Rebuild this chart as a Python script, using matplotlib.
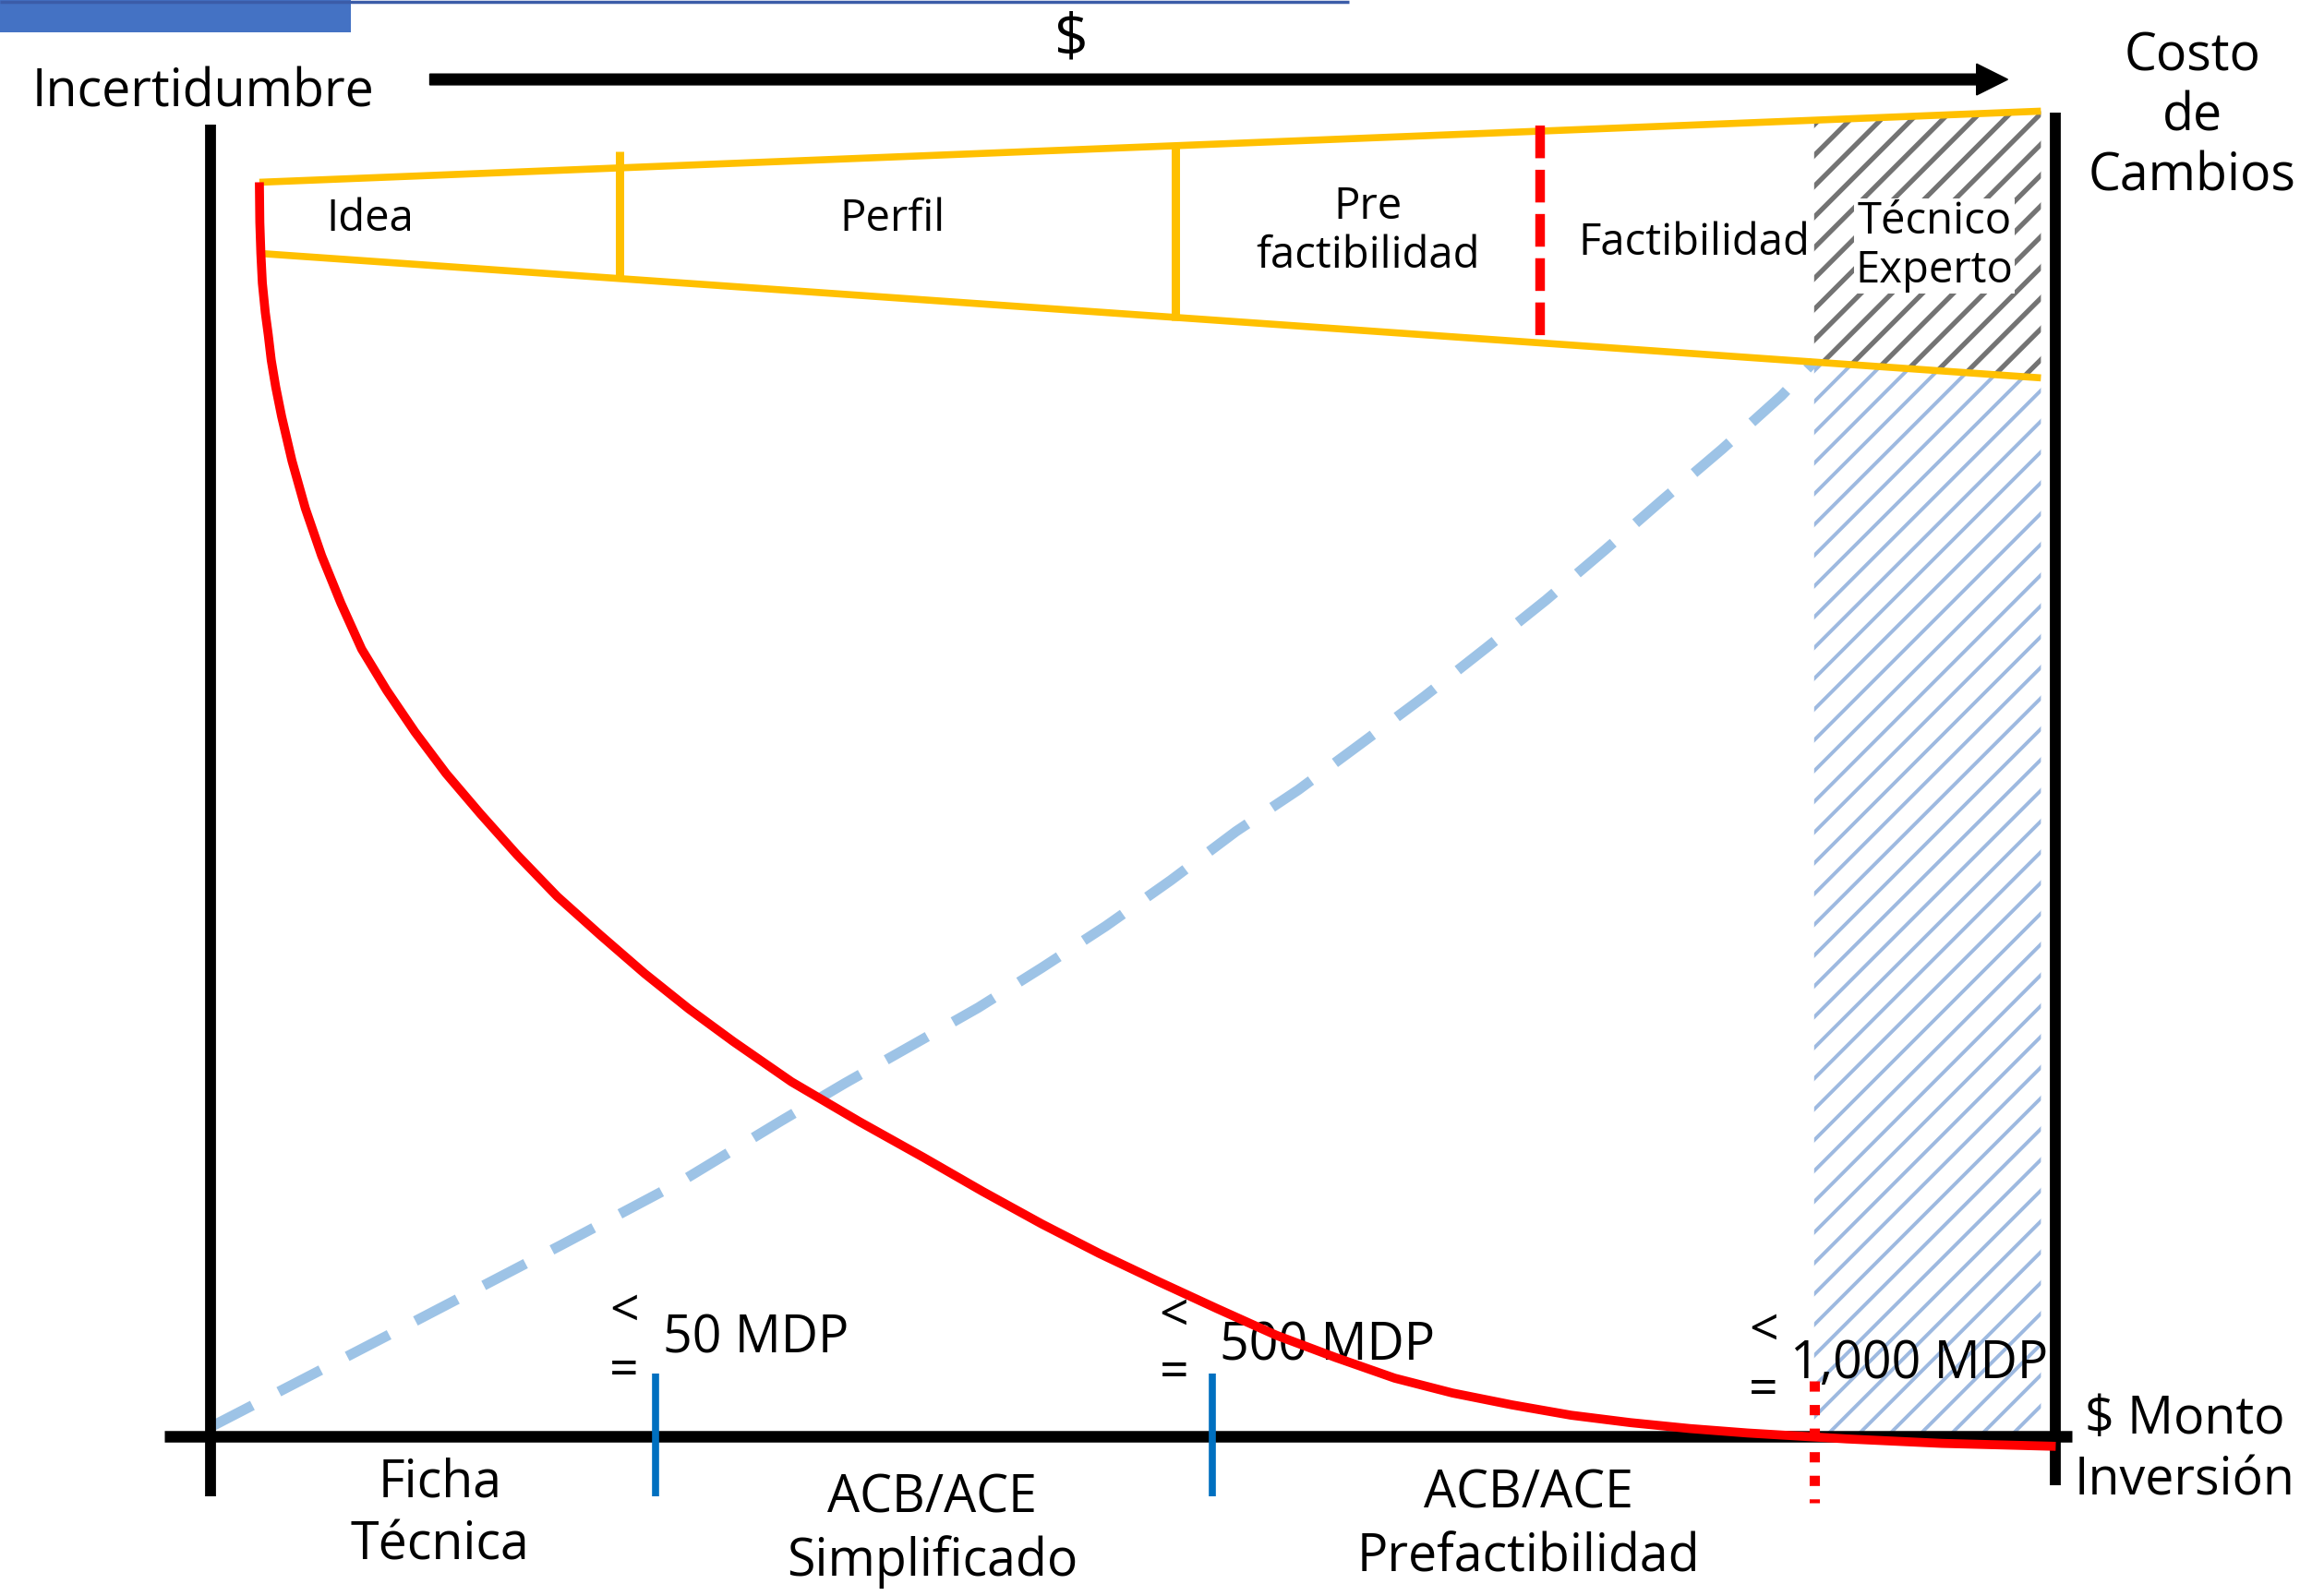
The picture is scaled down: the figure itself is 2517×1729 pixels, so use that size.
import matplotlib.pyplot as plt
from matplotlib.patches import Polygon, Rectangle
import matplotlib as mpl

plt.rcParams['font.family'] = ['Open Sans', 'DejaVu Sans']

# Diagram canvas (y grows downward)
W, H = 1568, 1077

# Stage band at the top
band_x = [175, 1377]
band_top_y = [123, 75]
band_bottom_y = [171, 255]
stage_labels = ["Idea", "Perfil", "Pre\nfactibilidad", "Factibilidad", "Técnico\nExperto"]
stage_x = [250, 602, 923, 1143, 1305]
stage_y = [148, 148, 156, 164, 166]
divider_x = [418, 793]
divider_top = [102, 97]
divider_bottom = [189, 216]
feasibility_x = 1039
feasibility_span = [85, 229]

# Hatched "Técnico Experto" zone
expert_x = [1224, 1377]
expert_bottom = 966

# Uncertainty curve (red) and cost of changes curve (blue dashed)
uncert_x = [175, 175.3, 176, 177, 179, 181, 183, 186, 190, 197, 206, 217, 230, 244, 261, 280, 301,
            324, 349, 376, 405, 435, 465, 495, 534, 580, 623, 663, 703, 742,
            782, 821, 861, 901, 941, 980, 1020, 1060, 1100, 1140, 1179, 1246, 1310, 1387]
uncert_y = [123, 150, 171, 191, 211, 226, 243, 261, 281, 311, 343, 375, 407, 438, 466, 494, 522,
            549, 577, 605, 631, 657, 681, 703, 730, 757, 781, 804, 826, 846,
            865, 883, 901, 916, 930, 940, 948, 955, 960, 964, 967, 971, 974, 976]
cost_x = [142, 260, 379, 460, 526, 570, 623, 660, 703, 746, 790, 834, 876, 918,
          961, 1003, 1043, 1083, 1122, 1162, 1202, 1224]
cost_y = [963, 902, 840, 797, 757, 731, 701, 680, 653, 625, 594, 561, 533, 502,
          470, 437, 405, 371, 337, 303, 267, 244]

# Investment thresholds and study types along the bottom
threshold_labels = ["50 MDP", "500 MDP", "1,000 MDP"]
threshold_x = [447, 823, 1208]
threshold_y = [904, 909, 921]
le_x = [421, 792, 1190]
lt_y = [886, 889, 899]
eq_y = [926, 927, 939]
tick_x = [442, 818]
tick_span = [927, 1010]
limit_x = 1224
limit_span = [932, 1014]
study_labels = ["Ficha\nTécnica", "ACB/ACE\nSimplificado", "ACB/ACE\nPrefactibilidad"]
study_x = [297, 629, 1031]
study_y = [1022, 1033, 1030]

# Axes frame
left_x, left_span = 142, [84, 1010]
right_x, right_span = 1387, [76, 1002]
base_y, base_span = 969, [111, 1398]

YELLOW = "#FFC000"
RED = "#FF0000"


def band_y(xs, ys, x):
    return ys[0] + (ys[1] - ys[0]) * (x - xs[0]) / (xs[1] - xs[0])


fig = plt.figure(figsize=(25.17, 17.29), dpi=100)
ax = fig.add_axes([0, 0, 1, 1])
ax.set_xlim(0, W)
ax.set_ylim(H, 0)
ax.axis("off")

# header decoration
ax.add_patch(Rectangle((0, 0), 237, 22, color="#4472C4", lw=0))
ax.plot([0, 910], [1, 1], color="#3B5CA8", lw=2.5, solid_capstyle="butt")

# hatched zone: grey above the band bottom, light blue below
x0, x1 = expert_x
grey = [(x0, band_y(band_x, band_top_y, x0)), (x1, band_y(band_x, band_top_y, x1)),
        (x1, band_y(band_x, band_bottom_y, x1)), (x0, band_y(band_x, band_bottom_y, x0))]
mpl.rcParams["hatch.linewidth"] = 3.8
ax.add_patch(Polygon(grey, closed=True, fc="white", ec="#737373", lw=0, hatch="/", zorder=1))
blue = [(x0, band_y(band_x, band_bottom_y, x0)), (x1, band_y(band_x, band_bottom_y, x1)),
        (x1, expert_bottom), (x0, expert_bottom)]
mpl.rcParams["hatch.linewidth"] = 2.8
ax.add_patch(Polygon(blue, closed=True, fc="white", ec="#9DB9E0", lw=0, hatch="/", zorder=1))

# frame
ax.plot([left_x, left_x], left_span, color="black", lw=8.5, solid_capstyle="butt", zorder=3)
ax.plot([right_x, right_x], right_span, color="black", lw=8.5, solid_capstyle="butt", zorder=3)
ax.plot(base_span, [base_y, base_y], color="black", lw=9, solid_capstyle="butt", zorder=3)

# $ arrow
ax.arrow(290, 53.6, 1064.6, 0, width=7.3, head_width=21, head_length=21,
         length_includes_head=True, color="black", zorder=3)

# cost of changes curve
ax.plot(cost_x, cost_y, color="#9DC3E6", lw=8, dashes=(4.6, 2.9),
        dash_capstyle="butt", zorder=2)

# stage band
ax.plot(band_x, band_top_y, color=YELLOW, lw=5.5, solid_capstyle="butt", zorder=4)
ax.plot(band_x, band_bottom_y, color=YELLOW, lw=5.5, solid_capstyle="butt", zorder=4)
for x, t, b in zip(divider_x, divider_top, divider_bottom):
    ax.plot([x, x], [t, b], color=YELLOW, lw=6.5, solid_capstyle="butt", zorder=4)
ax.plot([feasibility_x, feasibility_x], feasibility_span, color=RED, lw=7.5,
        dashes=(3.4, 1.2), dash_capstyle="butt", zorder=4)
for label, x, y in zip(stage_labels, stage_x, stage_y):
    kw = {}
    if label.startswith("Técnico"):
        kw["bbox"] = dict(fc="white", ec="none", pad=1)
    ax.text(x, y, label, fontsize=34, ha="center", va="center", linespacing=1.16,
            zorder=5, **kw)

# thresholds
for x in tick_x:
    ax.plot([x, x], tick_span, color="#0070C0", lw=5.5, solid_capstyle="butt", zorder=4)
ax.plot([limit_x, limit_x], limit_span, color=RED, lw=8, dashes=(1, 1.3),
        dash_capstyle="butt", zorder=4)
for label, x, y, lx, ly, ey in zip(threshold_labels, threshold_x, threshold_y, le_x, lt_y, eq_y):
    ax.text(x, y, label, fontsize=40, ha="left", va="center", zorder=5)
    ax.text(lx, ly, "<", fontsize=40, ha="center", va="center", zorder=5)
    ax.text(lx, ey, "=", fontsize=40, ha="center", va="center", zorder=5)
for label, x, y in zip(study_labels, study_x, study_y):
    ax.text(x, y, label, fontsize=40, ha="center", va="center", linespacing=1.26, zorder=5)

# uncertainty curve
ax.plot(uncert_x, uncert_y, color=RED, lw=7, solid_joinstyle="round",
        solid_capstyle="butt", zorder=6)

# outer labels
ax.text(137, 63, "Incertidumbre", fontsize=40, ha="center", va="center")
ax.text(723, 27, "$", fontsize=46, ha="center", va="center")
ax.text(1479, 79, "Costo\nde\nCambios", fontsize=40, ha="center", va="center", linespacing=1.18)
ax.text(1474, 979, "$ Monto\nInversión", fontsize=40, ha="center", va="center", linespacing=1.24)

fig.savefig("out.png", dpi=100, facecolor="white")
